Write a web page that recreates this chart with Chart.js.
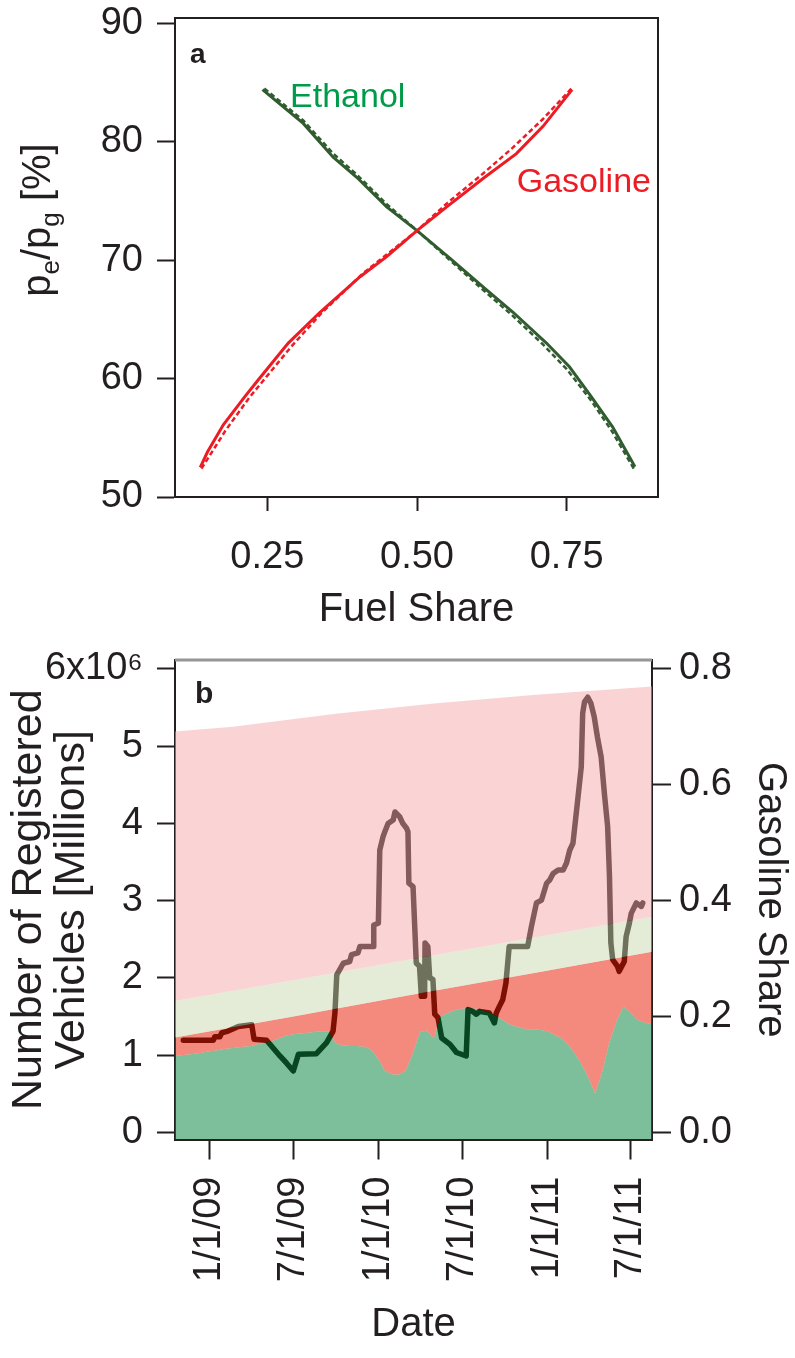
<!DOCTYPE html>
<html>
<head>
<meta charset="utf-8">
<script src="https://cdn.jsdelivr.net/npm/chart.js@4.4.1/dist/chart.umd.min.js"></script>
<style>
  html, body { margin: 0; padding: 0; background: #fff; }
  #wrap { position: relative; width: 795px; height: 1358px; }
  canvas { position: absolute; left: 0; }
  #priceChart { top: 0; }
  #fleetChart { top: 640px; }
</style>
</head>
<body>
<div id="wrap">
  <canvas id="priceChart" width="795" height="640"></canvas>
  <canvas id="fleetChart" width="795" height="718"></canvas>
</div>
<script>
const FONT = '"Liberation Sans", Arial, Helvetica, sans-serif';
const INK = '#231f20';
const RED = 'rgb(237, 28, 36)';
const DARK_GREEN = 'rgb(48, 92, 48)';

// ---- panel a: price ratio against fuel share ----
const gasolineX = [0.138, 0.150, 0.1765, 0.2128, 0.235, 0.285, 0.338, 0.405, 0.4494, 0.5, 0.5496, 0.6103, 0.666, 0.7105, 0.759];
const gasolineY = [52.5, 53.8, 56.1, 58.5, 59.9, 63.0, 65.6, 68.6, 70.3, 72.5, 74.5, 76.9, 79.0, 81.3, 84.4];
const gasolineFitX = [0.140, 0.18, 0.22, 0.29, 0.34, 0.41, 0.5, 0.55, 0.61, 0.66, 0.71, 0.758];
const gasolineFitY = [52.4, 55.6, 58.4, 62.7, 65.5, 68.9, 72.5, 74.8, 77.3, 79.5, 81.9, 84.5];
const ethanolX = [0.242, 0.31, 0.36, 0.3993, 0.4494, 0.5, 0.5552, 0.6103, 0.6604, 0.7161, 0.7545, 0.7907, 0.8268, 0.864];
const ethanolY = [84.4, 81.55, 78.7, 77.0, 74.5, 72.5, 70.15, 67.75, 65.6, 63.0, 61.0, 58.5, 55.9, 52.55];
const ethanolFitX = [0.245, 0.31, 0.36, 0.40, 0.45, 0.5, 0.555, 0.61, 0.66, 0.71, 0.75, 0.79, 0.825, 0.862];
const ethanolFitY = [84.5, 81.8, 79.0, 77.2, 74.7, 72.5, 70.0, 67.5, 65.3, 62.9, 60.8, 58.2, 55.6, 52.4];
const fuelTicks = [0.25, 0.50, 0.75];
const ratioTicks = [50, 60, 70, 80, 90];

// ---- panel b: registered vehicles and gasoline share ----
const fleetDates = ['2008-10-18', '2008-11-01', '2008-11-15', '2008-12-01', '2008-12-15',
  '2009-01-01', '2009-01-15', '2009-02-01', '2009-02-15', '2009-03-01', '2009-03-15', '2009-04-01', '2009-04-15',
  '2009-05-01', '2009-05-15', '2009-06-01', '2009-06-15', '2009-07-01', '2009-07-15', '2009-08-01', '2009-08-15',
  '2009-09-01', '2009-09-15', '2009-10-01', '2009-10-15', '2009-11-01', '2009-11-15', '2009-12-01', '2009-12-15',
  '2010-01-01', '2010-01-15', '2010-02-01', '2010-02-15', '2010-03-01', '2010-03-15', '2010-04-01', '2010-04-15',
  '2010-05-01', '2010-05-15', '2010-06-01', '2010-06-15', '2010-07-01', '2010-07-15', '2010-08-01', '2010-08-15',
  '2010-09-01', '2010-09-15', '2010-10-01', '2010-10-15', '2010-11-01', '2010-11-15', '2010-12-01', '2010-12-15',
  '2011-01-01', '2011-01-15', '2011-02-01', '2011-02-15', '2011-03-01', '2011-03-15', '2011-04-01', '2011-04-15',
  '2011-05-01', '2011-05-15', '2011-06-01', '2011-06-15', '2011-07-01', '2011-07-15', '2011-08-01', '2011-08-16'];
const ethanolFleet = [0.99, 1.00, 1.01, 1.02, 1.03,
  1.05, 1.06, 1.08, 1.09, 1.10, 1.11, 1.12, 1.14,
  1.16, 1.18, 1.22, 1.25, 1.27, 1.28, 1.29, 1.30,
  1.31, 1.31, 1.15, 1.13, 1.12, 1.12, 1.11, 1.08,
  0.95, 0.80, 0.75, 0.75, 0.80, 1.00, 1.30, 1.32,
  1.22, 1.50, 1.55, 1.58, 1.60, 1.61, 1.60, 1.58,
  1.55, 1.50, 1.44, 1.39, 1.36, 1.34, 1.33, 1.33,
  1.31, 1.27, 1.22, 1.14, 1.03, 0.90, 0.70, 0.50,
  0.80, 1.15, 1.45, 1.63, 1.55, 1.46, 1.42, 1.40];
const bandDates = ['2008-10-18', '2009-07-01', '2010-04-01', '2010-12-01', '2011-08-16'];
const gasolineFleet = [1.23, 1.50, 1.80, 2.06, 2.34];
const mixedFleet = [1.70, 1.97, 2.26, 2.52, 2.79];
const totalDates = ['2008-10-18', '2009-02-20', '2009-10-01', '2010-05-01', '2010-12-01', '2011-08-16'];
const totalFleet = [5.19, 5.25, 5.42, 5.55, 5.66, 5.77];

const shareDates = ['2008-11-05', '2009-01-09', '2009-01-12', '2009-01-23', '2009-01-27', '2009-02-10', '2009-03-04',
  '2009-04-02', '2009-04-07', '2009-05-04', '2009-06-02', '2009-06-16', '2009-07-01', '2009-07-12', '2009-08-20',
  '2009-09-11', '2009-09-25', '2009-09-29', '2009-10-03', '2009-10-17', '2009-10-31', '2009-11-04', '2009-11-18',
  '2009-11-22', '2009-12-21', '2009-12-22', '2010-01-01', '2010-01-04', '2010-01-11', '2010-01-15', '2010-01-22',
  '2010-02-02', '2010-02-06', '2010-02-16', '2010-02-23', '2010-03-03', '2010-03-06', '2010-03-08', '2010-03-17',
  '2010-03-24', '2010-03-31', '2010-04-04', '2010-04-11', '2010-04-12', '2010-04-18', '2010-04-22', '2010-04-29',
  '2010-05-03', '2010-05-10', '2010-05-18', '2010-06-05', '2010-06-19', '2010-07-10', '2010-07-14', '2010-07-24',
  '2010-08-01', '2010-08-08', '2010-08-29', '2010-09-09', '2010-09-13', '2010-09-20', '2010-09-27', '2010-10-04',
  '2010-10-11', '2010-11-20', '2010-11-28', '2010-12-09', '2010-12-20', '2010-12-31', '2011-01-07', '2011-01-14',
  '2011-01-25', '2011-02-05', '2011-02-12', '2011-02-19', '2011-02-26', '2011-03-09', '2011-03-16', '2011-03-19',
  '2011-03-23', '2011-03-30', '2011-04-06', '2011-04-13', '2011-04-20', '2011-04-28', '2011-05-05', '2011-05-12',
  '2011-05-16', '2011-05-19', '2011-05-23', '2011-06-02', '2011-06-06', '2011-06-17', '2011-06-21', '2011-06-28',
  '2011-07-02', '2011-07-13', '2011-07-24', '2011-07-27'];
const shareValues = [0.159, 0.159, 0.165, 0.165, 0.172, 0.175, 0.183, 0.186, 0.161, 0.159,
  0.132, 0.120, 0.106, 0.135, 0.136, 0.155, 0.175, 0.206, 0.272, 0.292,
  0.295, 0.307, 0.310, 0.321, 0.321, 0.358, 0.361, 0.487, 0.510, 0.519,
  0.533, 0.539, 0.553, 0.545, 0.533, 0.525, 0.519, 0.430, 0.424, 0.292,
  0.287, 0.235, 0.235, 0.327, 0.321, 0.267, 0.264, 0.204, 0.198, 0.163,
  0.152, 0.138, 0.132, 0.212, 0.209, 0.204, 0.209, 0.206, 0.189, 0.206,
  0.218, 0.229, 0.258, 0.321, 0.321, 0.355, 0.396, 0.401, 0.430, 0.436,
  0.447, 0.453, 0.453, 0.465, 0.487, 0.499, 0.579, 0.631, 0.723, 0.743,
  0.751, 0.740, 0.717, 0.682, 0.648, 0.585, 0.528, 0.442, 0.327, 0.298,
  0.287, 0.278, 0.295, 0.338, 0.361, 0.378, 0.396, 0.390, 0.396];

const dateTicks = ['2009-01-01', '2009-07-01', '2010-01-01', '2010-07-01', '2011-01-01', '2011-07-01'];
const dateTickLabels = ['1/1/09', '7/1/09', '1/1/10', '7/1/10', '1/1/11', '7/1/11'];
const vehicleTicks = [0, 1, 2, 3, 4, 5, 6];
const vehicleTickLabels = ['0', '1', '2', '3', '4', '5', '6x10\u2076'];
const shareTicks = [0, 0.2, 0.4, 0.6, 0.8];

Chart.defaults.font.family = FONT;
Chart.defaults.color = INK;

function toPoints(xs, ys) {
    return xs.map((x, i) => ({ x: x, y: ys[i] }));
}

function toDatePoints(dates, ys) {
    return dates.map((d, i) => ({ x: Date.parse(d), y: ys[i] }));
}

function axisStyle(tickLength, padding) {
    return {
        grid: { drawOnChartArea: false, drawTicks: true, tickLength: tickLength, tickWidth: 2, tickColor: INK },
        border: { display: true, color: INK, width: 2 },
        ticks: { font: { size: 38 }, color: INK, padding: padding, autoSkip: false },
        z: 1
    };
}

// fixed box for an axis; drop the extra room Chart.js keeps for end labels
function fixWidth(w) {
    return s => { s.width = w; s.paddingTop = 0; s.paddingBottom = 0; };
}

function fixHeight(h) {
    return s => { s.height = h; s.paddingLeft = 0; s.paddingRight = 0; };
}

// text runs drawn bottom-to-top, used for the subscripted axis title
function drawVerticalRuns(ctx, cx, cy, runs) {
    ctx.save();
    ctx.translate(cx, cy);
    ctx.rotate(-Math.PI / 2);
    ctx.fillStyle = INK;
    ctx.textBaseline = 'alphabetic';
    let total = 0;
    runs.forEach(r => {
        ctx.font = r.size + 'px ' + FONT;
        r.w = ctx.measureText(r.text).width;
        total += r.w;
    });
    let x = -total / 2;
    runs.forEach(r => {
        ctx.font = r.size + 'px ' + FONT;
        ctx.fillText(r.text, x, r.dy);
        x += r.w;
    });
    ctx.restore();
}

const panelA = {
    id: 'panelA',
    afterDraw(chart) {
        const { ctx, chartArea, scales } = chart;
        ctx.save();
        ctx.strokeStyle = INK;
        ctx.lineWidth = 2;
        ctx.beginPath();
        ctx.moveTo(chartArea.left, chartArea.top);
        ctx.lineTo(chartArea.right, chartArea.top);
        ctx.lineTo(chartArea.right, chartArea.bottom);
        ctx.stroke();

        ctx.fillStyle = INK;
        ctx.font = 'bold 28px ' + FONT;
        ctx.textBaseline = 'alphabetic';
        ctx.fillText('a', chartArea.left + 15, chartArea.top + 45);

        ctx.font = '34px ' + FONT;
        ctx.fillStyle = 'rgb(0, 155, 72)';
        ctx.fillText('Ethanol', scales.x.getPixelForValue(0.288), scales.y.getPixelForValue(82.9));
        ctx.fillStyle = RED;
        ctx.fillText('Gasoline', scales.x.getPixelForValue(0.6666), scales.y.getPixelForValue(75.78));
        ctx.restore();

        drawVerticalRuns(ctx, 50, 220, [
            { text: 'p', size: 40, dy: 0 },
            { text: 'e', size: 26, dy: 9 },
            { text: '/p', size: 40, dy: 0 },
            { text: 'g', size: 26, dy: 9 },
            { text: ' [%]', size: 40, dy: 0 }
        ]);
    }
};

const panelB = {
    id: 'panelB',
    afterDraw(chart) {
        const { ctx, chartArea } = chart;
        ctx.save();
        ctx.strokeStyle = 'rgb(150, 150, 150)';
        ctx.lineWidth = 3;
        ctx.beginPath();
        ctx.moveTo(chartArea.left, chartArea.top);
        ctx.lineTo(chartArea.right, chartArea.top);
        ctx.stroke();
        ctx.fillStyle = INK;
        ctx.font = 'bold 30px ' + FONT;
        ctx.fillText('b', chartArea.left + 20, chartArea.top + 43);
        ctx.restore();
    }
};

const ax = axisStyle(14, 24);
const ay = axisStyle(18, 14);
new Chart(document.getElementById('priceChart'), {
    type: 'scatter',
    data: {
        datasets: [
            { data: toPoints(gasolineFitX, gasolineFitY), showLine: true, borderColor: RED, borderWidth: 2.5, borderDash: [5, 3], pointRadius: 0 },
            { data: toPoints(ethanolFitX, ethanolFitY), showLine: true, borderColor: DARK_GREEN, borderWidth: 2.5, borderDash: [5, 3], pointRadius: 0 },
            { data: toPoints(gasolineX, gasolineY), showLine: true, borderColor: RED, borderWidth: 3, pointRadius: 0 },
            { data: toPoints(ethanolX, ethanolY), showLine: true, borderColor: DARK_GREEN, borderWidth: 3, pointRadius: 0 }
        ]
    },
    options: {
        responsive: false,
        animation: false,
        devicePixelRatio: 1,
        layout: { padding: { top: 18, right: 137, left: 0, bottom: 0 } },
        plugins: { legend: { display: false }, tooltip: { enabled: false } },
        scales: {
            x: Object.assign({}, ax, {
                type: 'linear', min: 0.0958, max: 0.9025,
                afterBuildTicks: s => { s.ticks = fuelTicks.map(v => ({ value: v })); },
                afterFit: fixHeight(143),
                ticks: Object.assign({}, ax.ticks, { callback: v => v.toFixed(2) }),
                title: { display: true, text: 'Fuel Share', color: INK, font: { size: 40 }, padding: { top: 0, bottom: 6 } }
            }),
            y: Object.assign({}, ay, {
                type: 'linear', min: 50, max: 90.45,
                afterBuildTicks: s => { s.ticks = ratioTicks.map(v => ({ value: v })); },
                afterFit: fixWidth(175),
                ticks: Object.assign({}, ay.ticks, { callback: v => String(v) })
            })
        }
    },
    plugins: [panelA]
});

const bx = axisStyle(20, 17);
const by = axisStyle(18, 14);
const by2 = axisStyle(19, 8);
new Chart(document.getElementById('fleetChart'), {
    type: 'line',
    data: {
        datasets: [
            {
                data: toDatePoints(shareDates, shareValues), yAxisID: 'y2', order: 10,
                borderColor: 'rgb(10, 0, 0)', borderWidth: 5.5, borderJoinStyle: 'round', borderCapStyle: 'round',
                pointRadius: 0, fill: false
            },
            {
                data: toDatePoints(fleetDates, ethanolFleet), yAxisID: 'y', order: 4,
                borderWidth: 0, pointRadius: 0, fill: 'start', backgroundColor: 'rgba(7, 132, 63, 0.52)'
            },
            {
                data: toDatePoints(bandDates, gasolineFleet), yAxisID: 'y', order: 3,
                borderWidth: 0, pointRadius: 0, fill: 1, backgroundColor: 'rgba(234, 28, 5, 0.52)'
            },
            {
                data: toDatePoints(bandDates, mixedFleet), yAxisID: 'y', order: 2,
                borderWidth: 0, pointRadius: 0, fill: 2, backgroundColor: 'rgba(203, 219, 178, 0.52)'
            },
            {
                data: toDatePoints(totalDates, totalFleet), yAxisID: 'y', order: 1,
                borderWidth: 0, pointRadius: 0, fill: 3, backgroundColor: 'rgba(245, 172, 172, 0.52)'
            }
        ]
    },
    options: {
        responsive: false,
        animation: false,
        devicePixelRatio: 1,
        layout: { padding: { top: 20, right: 0, left: 0, bottom: 0 } },
        plugins: { legend: { display: false }, tooltip: { enabled: false } },
        scales: {
            x: Object.assign({}, bx, {
                type: 'linear', min: Date.parse('2008-10-18'), max: Date.parse('2011-08-16'),
                afterBuildTicks: s => { s.ticks = dateTicks.map(d => ({ value: Date.parse(d) })); },
                afterFit: fixHeight(218.5),
                ticks: Object.assign({}, bx.ticks, { minRotation: 90, maxRotation: 90, callback: (v, i) => dateTickLabels[i] }),
                title: { display: true, text: 'Date', color: INK, font: { size: 40 }, padding: { top: 0, bottom: 9 } }
            }),
            y: Object.assign({}, by, {
                type: 'linear', position: 'left', min: -0.091, max: 6.114,
                afterBuildTicks: s => { s.ticks = vehicleTicks.map(v => ({ value: v })); },
                afterFit: fixWidth(175),
                ticks: Object.assign({}, by.ticks, { callback: (v, i) => vehicleTickLabels[i] }),
                title: {
                    display: true, text: ['Number of Registered', 'Vehicles [Millions]'], color: INK,
                    font: { size: 43, lineHeight: 1.0 }, padding: { top: 8, bottom: 0 }
                }
            }),
            y2: Object.assign({}, by2, {
                type: 'linear', position: 'right', min: -0.091 / 7.5, max: 6.114 / 7.5,
                afterBuildTicks: s => { s.ticks = shareTicks.map(v => ({ value: v })); },
                afterFit: fixWidth(143),
                ticks: Object.assign({}, by2.ticks, { callback: v => v.toFixed(1) }),
                title: { display: true, text: 'Gasoline Share', color: INK, font: { size: 40 }, padding: { top: 1, bottom: 0 } }
            })
        }
    },
    plugins: [panelB]
});
</script>
</body>
</html>
